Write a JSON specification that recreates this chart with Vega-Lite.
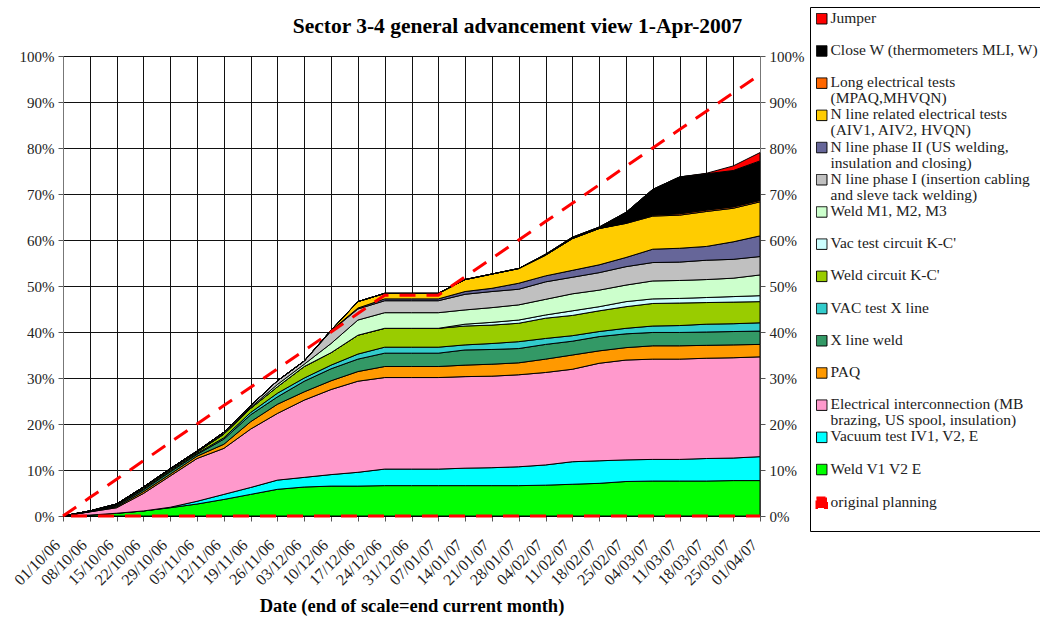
{
  "$schema": "https://vega.github.io/schema/vega-lite/v6.json",
  "autosize": "none",
  "width": 697,
  "height": 460,
  "padding": {"left": 63, "top": 56, "right": 280, "bottom": 101},
  "background": "white",
  "config": {
    "view": {"stroke": null},
    "font": "Liberation Serif",
    "axis": {"labelFont": "Liberation Serif", "titleFont": "Liberation Serif", "labelColor": "#222", "tickColor": "#555", "domainColor": "#777", "gridColor": "#111", "gridWidth": 1, "gridOpacity": 1, "tickSize": 5}
  },
  "title": {"text": "Sector 3-4 general advancement view 1-Apr-2007", "font": "Liberation Serif", "fontSize": 21.5, "fontWeight": "bold", "color": "black", "anchor": "middle", "frame": "group", "dx": 106, "offset": 0, "dy": 31},
  "data": {"values": [
    {"d": "01/10/06", "plan": 0, "s01": 0, "s02": 0, "s03": 0, "s04": 0, "s05": 0, "s06": 0, "s07": 0, "s08": 0, "s09": 0, "s10": 0, "s11": 0, "s12": 0, "s13": 0, "s14": 0, "s15": 0},
    {"d": "08/10/06", "plan": 4, "s01": 0.2, "s02": 0, "s03": 0.7, "s04": 0.05, "s05": 0.05, "s06": 0, "s07": 0.05, "s08": 0, "s09": 0, "s10": 0.05, "s11": 0, "s12": 0, "s13": 0, "s14": 0, "s15": 0},
    {"d": "15/10/06", "plan": 8, "s01": 0.6, "s02": 0, "s03": 1.2, "s04": 0.2, "s05": 0.2, "s06": 0.1, "s07": 0.2, "s08": 0, "s09": 0, "s10": 0.1, "s11": 0, "s12": 0, "s13": 0, "s14": 0, "s15": 0},
    {"d": "22/10/06", "plan": 12, "s01": 1.1, "s02": 0, "s03": 3.8, "s04": 0.4, "s05": 0.4, "s06": 0.2, "s07": 0.3, "s08": 0, "s09": 0, "s10": 0.1, "s11": 0, "s12": 0, "s13": 0, "s14": 0, "s15": 0},
    {"d": "29/10/06", "plan": 16, "s01": 1.8, "s02": 0.1, "s03": 6.8, "s04": 0.4, "s05": 0.5, "s06": 0.2, "s07": 0.3, "s08": 0, "s09": 0, "s10": 0.2, "s11": 0, "s12": 0, "s13": 0, "s14": 0, "s15": 0},
    {"d": "05/11/06", "plan": 20, "s01": 2.6, "s02": 0.6, "s03": 9.3, "s04": 0.5, "s05": 0.4, "s06": 0.2, "s07": 0.3, "s08": 0, "s09": 0, "s10": 0.2, "s11": 0, "s12": 0, "s13": 0, "s14": 0, "s15": 0},
    {"d": "12/11/06", "plan": 24, "s01": 3.6, "s02": 1.1, "s03": 10.0, "s04": 0.9, "s05": 1.1, "s06": 0.3, "s07": 0.8, "s08": 0, "s09": 0.1, "s10": 0.3, "s11": 0, "s12": 0, "s13": 0, "s14": 0, "s15": 0},
    {"d": "19/11/06", "plan": 28, "s01": 4.7, "s02": 1.5, "s03": 12.7, "s04": 1.6, "s05": 1.5, "s06": 0.5, "s07": 0.9, "s08": 0, "s09": 0.2, "s10": 0.4, "s11": 0, "s12": 0, "s13": 0, "s14": 0, "s15": 0},
    {"d": "26/11/06", "plan": 32, "s01": 5.8, "s02": 2.0, "s03": 14.5, "s04": 2.0, "s05": 1.6, "s06": 0.8, "s07": 1.4, "s08": 0, "s09": 0.5, "s10": 0.8, "s11": 0, "s12": 0, "s13": 0, "s14": 0, "s15": 0},
    {"d": "03/12/06", "plan": 36, "s01": 6.3, "s02": 2.1, "s03": 16.8, "s04": 1.8, "s05": 2.3, "s06": 0.7, "s07": 2.5, "s08": 0, "s09": 0.5, "s10": 0.7, "s11": 0, "s12": 0, "s13": 0, "s14": 0, "s15": 0},
    {"d": "10/12/06", "plan": 40, "s01": 6.5, "s02": 2.5, "s03": 18.5, "s04": 1.9, "s05": 2.6, "s06": 0.8, "s07": 2.7, "s08": 0, "s09": 2.0, "s10": 2.7, "s11": 0.1, "s12": 0.1, "s13": 0, "s14": 0, "s15": 0},
    {"d": "17/12/06", "plan": 44, "s01": 6.5, "s02": 3.0, "s03": 19.8, "s04": 2.1, "s05": 2.7, "s06": 1.1, "s07": 4.1, "s08": 0, "s09": 3.3, "s10": 2.4, "s11": 0.2, "s12": 1.4, "s13": 0, "s14": 0, "s15": 0},
    {"d": "24/12/06", "plan": 48, "s01": 6.6, "s02": 3.6, "s03": 19.9, "s04": 2.4, "s05": 2.9, "s06": 1.3, "s07": 4.1, "s08": 0, "s09": 3.4, "s10": 2.6, "s11": 0.4, "s12": 1.2, "s13": 0, "s14": 0, "s15": 0},
    {"d": "31/12/06", "plan": 48, "s01": 6.6, "s02": 3.6, "s03": 19.9, "s04": 2.4, "s05": 2.9, "s06": 1.3, "s07": 4.1, "s08": 0, "s09": 3.4, "s10": 2.6, "s11": 0.4, "s12": 1.2, "s13": 0, "s14": 0, "s15": 0},
    {"d": "07/01/07", "plan": 48, "s01": 6.6, "s02": 3.6, "s03": 19.9, "s04": 2.4, "s05": 2.9, "s06": 1.3, "s07": 4.1, "s08": 0, "s09": 3.4, "s10": 2.6, "s11": 0.4, "s12": 1.2, "s13": 0, "s14": 0, "s15": 0},
    {"d": "14/01/07", "plan": 52, "s01": 6.6, "s02": 3.8, "s03": 19.9, "s04": 2.5, "s05": 3.3, "s06": 1.1, "s07": 4.1, "s08": 0.4, "s09": 3.1, "s10": 3.4, "s11": 0.6, "s12": 2.6, "s13": 0, "s14": 0, "s15": 0},
    {"d": "21/01/07", "plan": 56, "s01": 6.6, "s02": 3.9, "s03": 19.9, "s04": 2.6, "s05": 3.2, "s06": 1.3, "s07": 4.0, "s08": 0.6, "s09": 3.2, "s10": 3.5, "s11": 0.7, "s12": 3.1, "s13": 0, "s14": 0, "s15": 0},
    {"d": "28/01/07", "plan": 60, "s01": 6.6, "s02": 4.1, "s03": 20.0, "s04": 2.6, "s05": 3.1, "s06": 1.5, "s07": 4.0, "s08": 0.7, "s09": 3.3, "s10": 3.4, "s11": 1.3, "s12": 3.2, "s13": 0, "s14": 0, "s15": 0},
    {"d": "04/02/07", "plan": 64, "s01": 6.7, "s02": 4.4, "s03": 20.1, "s04": 2.9, "s05": 3.2, "s06": 1.3, "s07": 4.4, "s08": 0.7, "s09": 3.4, "s10": 3.8, "s11": 1.3, "s12": 4.5, "s13": 0, "s14": 0.2, "s15": 0},
    {"d": "11/02/07", "plan": 68, "s01": 6.9, "s02": 4.9, "s03": 20.1, "s04": 3.1, "s05": 3.0, "s06": 1.2, "s07": 4.4, "s08": 1.0, "s09": 3.7, "s10": 3.6, "s11": 1.5, "s12": 6.9, "s13": 0, "s14": 0.3, "s15": 0},
    {"d": "18/02/07", "plan": 72, "s01": 7.1, "s02": 4.9, "s03": 21.2, "s04": 2.7, "s05": 3.1, "s06": 1.1, "s07": 4.5, "s08": 0.9, "s09": 3.6, "s10": 3.8, "s11": 1.7, "s12": 7.9, "s13": 0, "s14": 0.3, "s15": 0},
    {"d": "25/02/07", "plan": 76, "s01": 7.5, "s02": 4.7, "s03": 21.7, "s04": 2.7, "s05": 3.0, "s06": 1.2, "s07": 4.7, "s08": 1.1, "s09": 3.6, "s10": 4.0, "s11": 2.0, "s12": 7.4, "s13": 0.1, "s14": 2.3, "s15": 0},
    {"d": "04/03/07", "plan": 80, "s01": 7.6, "s02": 4.7, "s03": 21.8, "s04": 2.9, "s05": 2.9, "s06": 1.4, "s07": 4.9, "s08": 1.0, "s09": 3.9, "s10": 4.0, "s11": 2.9, "s12": 7.2, "s13": 0.2, "s14": 5.6, "s15": 0},
    {"d": "11/03/07", "plan": 84, "s01": 7.6, "s02": 4.7, "s03": 21.8, "s04": 2.9, "s05": 2.9, "s06": 1.5, "s07": 4.9, "s08": 1.0, "s09": 3.9, "s10": 4.0, "s11": 3.0, "s12": 7.2, "s13": 0.3, "s14": 8.0, "s15": 0},
    {"d": "18/03/07", "plan": 88, "s01": 7.6, "s02": 4.9, "s03": 21.8, "s04": 2.8, "s05": 2.9, "s06": 1.7, "s07": 4.7, "s08": 1.1, "s09": 3.9, "s10": 4.2, "s11": 3.0, "s12": 7.6, "s13": 0.3, "s14": 7.9, "s15": 0.1},
    {"d": "25/03/07", "plan": 92, "s01": 7.7, "s02": 4.9, "s03": 21.8, "s04": 2.8, "s05": 2.9, "s06": 1.7, "s07": 4.7, "s08": 1.2, "s09": 4.0, "s10": 4.1, "s11": 3.8, "s12": 7.3, "s13": 0.3, "s14": 7.9, "s15": 1.0},
    {"d": "01/04/07", "plan": 96, "s01": 7.7, "s02": 5.2, "s03": 21.7, "s04": 2.7, "s05": 2.9, "s06": 1.8, "s07": 4.6, "s08": 1.3, "s09": 4.5, "s10": 4.0, "s11": 4.5, "s12": 7.4, "s13": 0.3, "s14": 8.6, "s15": 1.8}
  ]},
  "encoding": {
    "x": {"field": "d", "type": "ordinal", "sort": null, "scale": {"type": "point", "padding": 0},
      "axis": {"labelAngle": -45, "labelFontSize": 16, "labelBaseline": "middle", "labelAlign": "right", "labelPadding": 21, "labelOffset": -6, "grid": true, "domainColor": "#000", "title": "Date (end of scale=end current month)", "titleFontSize": 18.5, "titleFontWeight": "bold", "titleColor": "black", "titleY": 95, "titleBaseline": "alphabetic"}}
  },
  "layer": [
    {
      "transform": [{"fold": ["s01","s02","s03","s04","s05","s06","s07","s08","s09","s10","s11","s12","s13","s14","s15"], "as": ["key","value"]}],
      "mark": {"type": "area", "stroke": "black", "strokeWidth": 1, "interpolate": "linear", "fillOpacity": 1},
      "encoding": {
        "y": {"field": "value", "type": "quantitative", "stack": "zero", "scale": {"domain": [0, 100], "nice": false},
          "axis": {"orient": "left", "values": [0,10,20,30,40,50,60,70,80,90,100], "labelExpr": "datum.value + '%'", "labelFontSize": 15, "labelPadding": 4, "grid": true, "title": null}},
        "order": {"field": "key", "sort": "ascending"},
        "color": {"field": "key", "type": "nominal",
          "scale": {"domain": ["s15","s14","s13","s12","s11","s10","s09","s08","s07","s06","s05","s04","s03","s02","s01","zplan"],
                    "range": ["#FF0000","#000000","#FF6600","#FFCC00","#666699","#C0C0C0","#CCFFCC","#CCFFFF","#99CC00","#33CCCC","#339966","#FF9900","#FF99CC","#00FFFF","#00FF00","#FF0000"]},
          "legend": {"orient": "none", "legendX": 747, "legendY": -49, "title": null, "strokeColor": "black", "padding": 4, "symbolType": "square", "symbolSize": 110, "symbolStrokeColor": "black", "symbolStrokeWidth": 1, "labelFont": "Liberation Serif", "labelFontSize": 15.5, "labelColor": "#222", "labelBaseline": "top", "labelLimit": 400, "labelOffset": 1, "rowPadding": -0.8,
            "labelExpr": "{'s15':['Jumper',''],'s14':['Close W (thermometers MLI, W)',''],'s13':['Long electrical tests','(MPAQ,MHVQN)'],'s12':['N line related electrical tests','(AIV1, AIV2, HVQN)'],'s11':['N line phase II (US welding,','insulation and closing)'],'s10':['N line phase I (insertion cabling','and sleve tack welding)'],'s09':['Weld M1, M2, M3',''],'s08':[\"Vac test circuit K-C'\",''],'s07':[\"Weld circuit K-C'\",''],'s06':['VAC test X line',''],'s05':[' X line weld',''],'s04':['PAQ',''],'s03':['Electrical interconnection (MB','brazing, US spool, insulation)'],'s02':['Vacuum test IV1, V2, E',''],'s01':['Weld V1 V2 E',''],'zplan':['original planning','']}[datum.value]",
            "encode": {
              "labels": {"update": {"lineHeight": {"value": 16}, "dy": {"value": -8}}},
              "symbols": {"update": {
                "fill": {"signal": "datum.value === 'zplan' ? 'transparent' : scale('color', datum.value)"},
                "stroke": {"signal": "datum.value === 'zplan' ? '#FF0000' : 'black'"},
                "strokeWidth": {"signal": "datum.value === 'zplan' ? 2 : 1"},
                "strokeDash": {"signal": "datum.value === 'zplan' ? [9, 6] : [1, 0]"}
              }}
            }}}
      }
    },
    {
      "mark": {"type": "line", "color": "#FF0000", "strokeWidth": 3, "strokeDash": [16, 11]},
      "encoding": {
        "y": {"field": "plan", "type": "quantitative", "scale": {"domain": [0, 100], "nice": false},
          "axis": {"orient": "right", "values": [0,10,20,30,40,50,60,70,80,90,100], "labelExpr": "datum.value + '%'", "labelFontSize": 15, "labelPadding": 4, "grid": false, "title": null}}
      }
    },
    {
      "mark": {"type": "line", "color": "#FF0000", "strokeWidth": 3, "strokeDash": [16, 11], "strokeDashOffset": -8},
      "encoding": {"y": {"datum": 0, "type": "quantitative", "axis": null}}
    }
  ],
  "resolve": {"scale": {"y": "shared"}, "axis": {"y": "independent"}}
}
